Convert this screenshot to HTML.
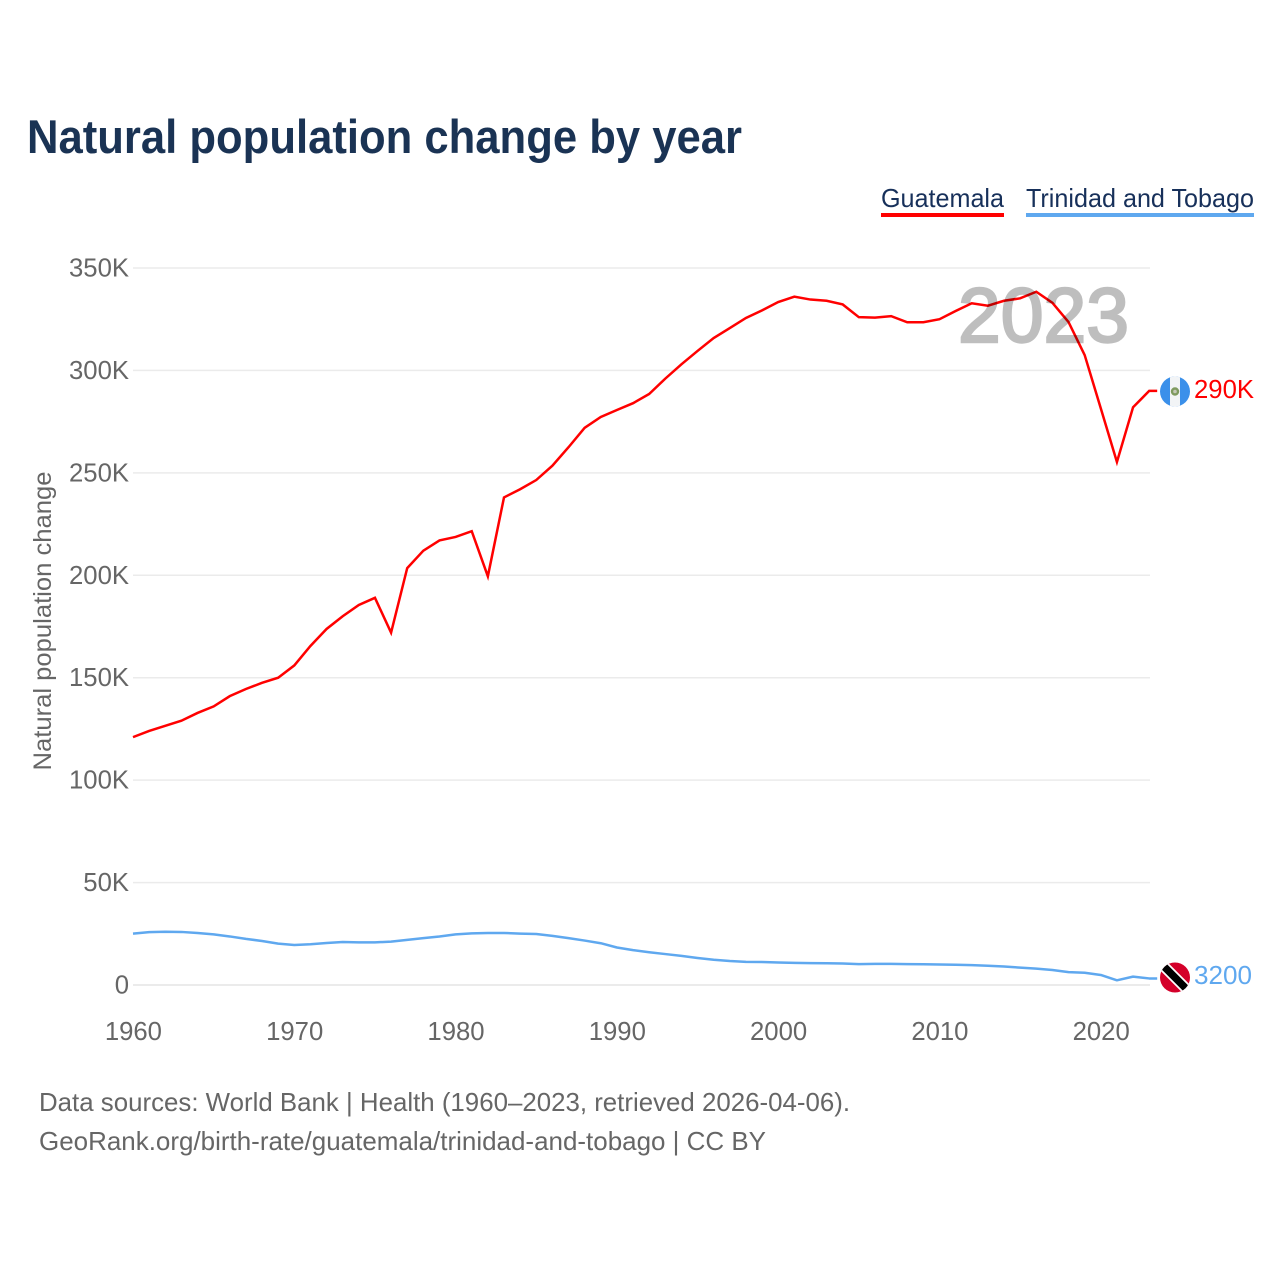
<!DOCTYPE html>
<html lang="en">
<head>
<meta charset="utf-8">
<title>Natural population change by year</title>
<style>
html,body{margin:0;padding:0;background:#fff;}
svg{display:block;font-family:"Liberation Sans",sans-serif;}
</style>
</head>
<body>
<svg id="chart" width="1280" height="1280" viewBox="0 0 1280 1280" xmlns="http://www.w3.org/2000/svg">
  <rect x="0" y="0" width="1280" height="1280" fill="#ffffff"/>
  <text x="27" y="153" font-size="47" font-weight="700" fill="#1a3354" textLength="715" lengthAdjust="spacingAndGlyphs">Natural population change by year</text>

  <g>
    <text x="881" y="207" font-size="26" fill="#17305a" textLength="123" lengthAdjust="spacingAndGlyphs">Guatemala</text>
    <rect x="881" y="213" width="123" height="4" fill="#ff0000"/>
  </g>
  <g>
    <text x="1026" y="207" font-size="26" fill="#17305a" textLength="228" lengthAdjust="spacingAndGlyphs">Trinidad and Tobago</text>
    <rect x="1026" y="213" width="228" height="4" fill="#5fa8ef"/>
  </g>

  <g id="grid"></g>
  <g id="yticks"></g>
  <g id="xticks"></g>
  <text transform="translate(51,621) rotate(-90)" text-anchor="middle" font-size="25" fill="#666666" textLength="299" lengthAdjust="spacingAndGlyphs">Natural population change</text>

  <g id="series"></g>

  <text x="958" y="342" font-size="77" font-weight="400" fill="#000000" stroke="#000000" stroke-width="2.4" opacity="0.25" textLength="171" lengthAdjust="spacingAndGlyphs">2023</text>

  <defs>
    <clipPath id="clip-gt"><circle cx="1175" cy="391.5" r="15"/></clipPath>
    <clipPath id="clip-tt"><circle cx="1175" cy="977.5" r="15"/></clipPath>
  </defs>
  <g clip-path="url(#clip-gt)">
    <rect x="1160" y="376" width="30" height="31" fill="#3b90ea"/>
    <rect x="1170" y="376" width="10" height="31" fill="#f2f4f6"/>
    <circle cx="1175" cy="391.5" r="3" fill="#c4c8b8" stroke="#7f9a5f" stroke-width="2.4"/>
  </g>
  <g clip-path="url(#clip-tt)">
    <rect x="1160" y="962" width="30" height="31" fill="#d4002a"/>
    <line x1="1162" y1="964.5" x2="1188" y2="990.5" stroke="#ffffff" stroke-width="11"/>
    <line x1="1162" y1="964.5" x2="1188" y2="990.5" stroke="#000000" stroke-width="7.5"/>
  </g>
  <text x="1194" y="398" font-size="26" fill="#ff0000" textLength="60" lengthAdjust="spacingAndGlyphs">290K</text>
  <text x="1194" y="984" font-size="26" fill="#5fa8ef" textLength="58" lengthAdjust="spacingAndGlyphs">3200</text>

  <text x="39" y="1111" font-size="26" fill="#666666" textLength="811" lengthAdjust="spacingAndGlyphs">Data sources: World Bank | Health (1960–2023, retrieved 2026-04-06).</text>
  <text x="39" y="1150" font-size="26" fill="#666666" textLength="727" lengthAdjust="spacingAndGlyphs">GeoRank.org/birth-rate/guatemala/trinidad-and-tobago | CC BY</text>
</svg>
<script>
var startYear = 1960;
var xTickYears = [1960, 1970, 1980, 1990, 2000, 2010, 2020];
var yTickValues = [0, 50, 100, 150, 200, 250, 300, 350];
var yTickLabels = ["0", "50K", "100K", "150K", "200K", "250K", "300K", "350K"];
var guatemala = [121, 124, 126.5, 129, 132.8, 136, 141, 144.5, 147.5, 150,
  156, 165.5, 173.8, 180, 185.5, 189, 172, 203.5, 212, 217,
  218.7, 221.5, 199.5, 238, 242, 246.5, 253.5, 262.5, 272, 277.3,
  280.7, 284, 288.5, 296, 303, 309.5, 315.8, 320.7, 325.6, 329.3,
  333.4, 336, 334.6, 334, 332.2, 326, 325.8, 326.5, 323.5, 323.5,
  325, 329, 332.8, 331.6, 334, 335.2, 338.4, 333, 323.6, 307.5,
  281.5, 255.3, 282, 290];
var trinidad = [25.1, 25.8, 26, 25.9, 25.4, 24.7, 23.7, 22.5, 21.5, 20.2,
  19.5, 19.9, 20.5, 21, 20.8, 20.8, 21.2, 22, 22.9, 23.7,
  24.7, 25.2, 25.4, 25.4, 25.1, 24.9, 24, 22.9, 21.7, 20.4,
  18.3, 17, 16, 15.1, 14.2, 13.2, 12.3, 11.7, 11.3, 11.2,
  11, 10.8, 10.7, 10.6, 10.5, 10.2, 10.3, 10.3, 10.2, 10.1,
  10, 9.9, 9.7, 9.4, 9, 8.5, 8, 7.3, 6.3, 6,
  4.9, 2.3, 4.1, 3.2];

var SVGNS = "http://www.w3.org/2000/svg";
function xScale(year) { return 133 + (year - 1960) * 16.13; }
function yScale(value) { return 985 - value * 717 / 350; }
function make(tag, parent) {
  var el = document.createElementNS(SVGNS, tag);
  document.getElementById(parent).appendChild(el);
  return el;
}

yTickValues.forEach(function (v, i) {
  var gl = make("line", "grid");
  
  
  gl.setAttribute("x1", 133);
  gl.setAttribute("x2", 1150);
  gl.setAttribute("y1", yScale(v));
  gl.setAttribute("y2", yScale(v));
  gl.setAttribute("stroke", "#ebebeb");
  gl.setAttribute("stroke-width", v === 0 ? 2 : 1.5);

  var t = make("text", "yticks");
  
  
  t.setAttribute("x", 129);
  t.setAttribute("y", yScale(v) + 8.5);
  t.setAttribute("text-anchor", "end");
  t.setAttribute("font-size", "25.7");
  t.setAttribute("fill", "#666666");
  t.textContent = yTickLabels[i];
});

xTickYears.forEach(function (yr) {
  var t = make("text", "xticks");
  
  
  t.setAttribute("x", xScale(yr) + 0.4);
  t.setAttribute("y", 1040);
  t.setAttribute("text-anchor", "middle");
  t.setAttribute("font-size", "25.7");
  t.setAttribute("fill", "#666666");
  t.textContent = String(yr);
});

function linePath(values) {
  var d = values.map(function (v, i) {
    return (i ? "L" : "M") + xScale(startYear + i).toFixed(2) + " " + yScale(v).toFixed(2);
  }).join(" ");
  return d + " H" + (xScale(startYear + values.length - 1) + 8).toFixed(2);
}

var lineGt = make("path", "series");


lineGt.setAttribute("d", linePath(guatemala));
lineGt.setAttribute("fill", "none");
lineGt.setAttribute("stroke", "#ff0000");
lineGt.setAttribute("stroke-width", "2.5");
lineGt.setAttribute("stroke-linejoin", "miter");

var lineTt = make("path", "series");


lineTt.setAttribute("d", linePath(trinidad));
lineTt.setAttribute("fill", "none");
lineTt.setAttribute("stroke", "#5fa8ef");
lineTt.setAttribute("stroke-width", "2.5");
lineTt.setAttribute("stroke-linejoin", "round");
</script>
</body>
</html>
